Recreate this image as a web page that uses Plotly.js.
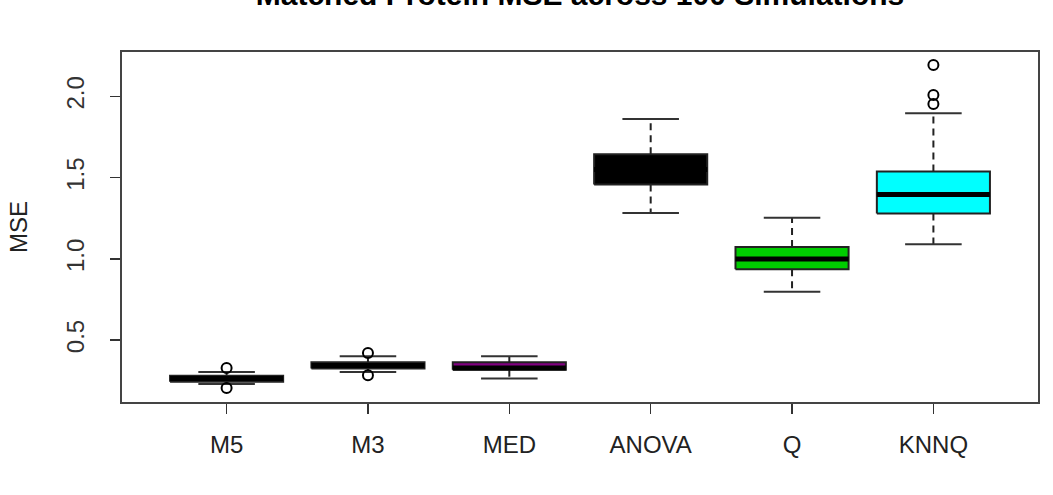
<!DOCTYPE html>
<html>
<head>
<meta charset="utf-8">
<script src="https://cdn.plot.ly/plotly-3.0.1.min.js"></script>
<style>html,body{margin:0;padding:0;background:#fff;}#chart{width:1053px;height:495px;}</style>
</head>
<body>
<div id="chart"></div>
<script>
const categories = ['M5', 'M3', 'MED', 'ANOVA', 'Q', 'KNNQ'];
const lowerWhisker = [0.230, 0.304, 0.264, 1.282, 0.798, 1.091];
const q1Values = [0.244, 0.326, 0.318, 1.458, 0.937, 1.279];
const medianValues = [0.263, 0.344, 0.328, 1.550, 0.999, 1.396];
const q3Values = [0.281, 0.363, 0.363, 1.645, 1.073, 1.538];
const upperWhisker = [0.304, 0.400, 0.400, 1.862, 1.253, 1.897];
const outlierCategory = ['M5', 'M5', 'M3', 'M3', 'KNNQ', 'KNNQ', 'KNNQ'];
const outlierValues = [0.205, 0.328, 0.283, 0.421, 1.954, 2.009, 2.194];
const boxColors = ['#000000', '#000000', '#800080', '#000000', '#00CD00', '#00FFFF'];
const yTicks = [0.5, 1.0, 1.5, 2.0];

const BOX_HALF = 0.4, CAP_HALF = 0.2;
const LINE = '#222222';
const traces = [];

categories.forEach((c, k) => {
  const i = k + 1;
  traces.push({
    type: 'scatter', mode: 'lines', hoverinfo: 'skip', showlegend: false,
    x: [i - BOX_HALF, i + BOX_HALF, i + BOX_HALF, i - BOX_HALF, i - BOX_HALF],
    y: [q1Values[k], q1Values[k], q3Values[k], q3Values[k], q1Values[k]],
    fill: 'toself', fillcolor: boxColors[k],
    line: {color: LINE, width: 2}
  });
});

// whiskers (dashed)
const wx = [], wy = [];
categories.forEach((c, k) => {
  const i = k + 1;
  wx.push(i, i, null, i, i, null);
  wy.push(q3Values[k], upperWhisker[k], null, q1Values[k], lowerWhisker[k], null);
});
traces.push({type: 'scatter', mode: 'lines', x: wx, y: wy, showlegend: false, hoverinfo: 'skip',
  line: {color: LINE, width: 2, dash: '7px,5px'}});

// caps
const cx = [], cy = [];
categories.forEach((c, k) => {
  const i = k + 1;
  cx.push(i - CAP_HALF, i + CAP_HALF, null, i - CAP_HALF, i + CAP_HALF, null);
  cy.push(upperWhisker[k], upperWhisker[k], null, lowerWhisker[k], lowerWhisker[k], null);
});
traces.push({type: 'scatter', mode: 'lines', x: cx, y: cy, showlegend: false, hoverinfo: 'skip',
  line: {color: '#333333', width: 2}});

// medians
const mx = [], my = [];
categories.forEach((c, k) => {
  const i = k + 1;
  mx.push(i - BOX_HALF, i + BOX_HALF, null);
  my.push(medianValues[k], medianValues[k], null);
});
traces.push({type: 'scatter', mode: 'lines', x: mx, y: my, showlegend: false, hoverinfo: 'skip',
  line: {color: '#000000', width: 5}});

// outliers
traces.push({type: 'scatter', mode: 'markers', showlegend: false,
  x: outlierCategory.map(c => categories.indexOf(c) + 1), y: outlierValues,
  marker: {symbol: 'circle-open', size: 10, color: '#000000', line: {width: 2, color: '#000000'}}});

const FONT = 'Liberation Sans, Arial, sans-serif';
const layout = {
  width: 1053, height: 495,
  margin: {l: 122, r: 15, t: 52, b: 93},
  paper_bgcolor: '#ffffff', plot_bgcolor: '#ffffff',
  font: {family: FONT, size: 24, color: '#222222'},
  title: {text: '<b>Matched Protein MSE across 100 Simulations</b>',
    font: {family: FONT, size: 30, color: '#000000'},
    x: 0.5, xref: 'paper', xanchor: 'center', y: 1, yref: 'paper', yanchor: 'bottom',
    pad: {b: 47}},
  xaxis: {range: [0.26, 6.74], tickmode: 'array', tickvals: categories.map((c, k) => k + 1),
    ticktext: categories, ticks: 'outside', ticklen: 10, tickwidth: 1.5, tickcolor: '#333',
    ticklabelstandoff: 10,
    showline: true, linecolor: '#444', linewidth: 2, mirror: true,
    showgrid: false, zeroline: false, tickfont: {size: 24, color: '#222'}},
  yaxis: {range: [0.119, 2.274], tickmode: 'array', tickvals: yTicks,
    ticktext: yTicks.map(v => v.toFixed(1)), tickangle: -90,
    ticks: 'outside', ticklen: 10, tickwidth: 1.5, tickcolor: '#333',
    ticklabelstandoff: 16,
    showline: true, linecolor: '#444', linewidth: 2, mirror: true,
    showgrid: false, zeroline: false, tickfont: {size: 24, color: '#333'},
    title: {text: 'MSE', font: {size: 24, color: '#222'}, standoff: 28}}
};

Plotly.newPlot('chart', traces, layout, {displayModeBar: false, staticPlot: true});
</script>
</body>
</html>
